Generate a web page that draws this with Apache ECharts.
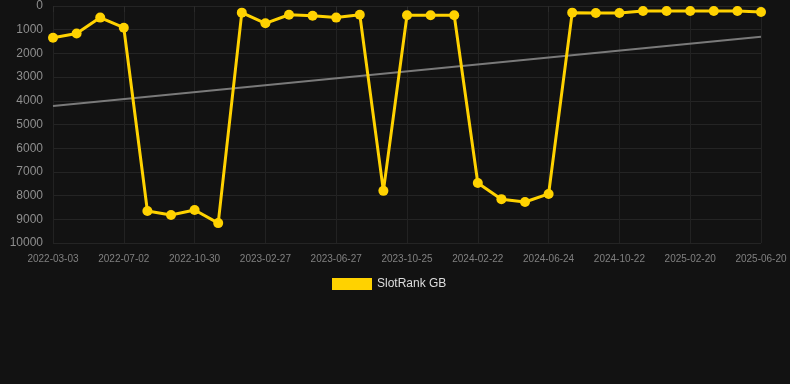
<!DOCTYPE html>
<html>
<head>
<meta charset="utf-8">
<script src="https://cdn.jsdelivr.net/npm/echarts@6/dist/echarts.min.js"></script>
<style>
  html, body { margin: 0; padding: 0; background: #121212; }
  #chart { width: 790px; height: 384px; }
</style>
</head>
<body>
<div id="chart"></div>
<script>
// dates of each rank sample (~40 days apart)
var dates = [
  '2022-03-03', '2022-04-12', '2022-05-22', '2022-07-02', '2022-08-11', '2022-09-20',
  '2022-10-30', '2022-12-09', '2023-01-18', '2023-02-27', '2023-04-08', '2023-05-18',
  '2023-06-27', '2023-08-06', '2023-09-15', '2023-10-25', '2023-12-04', '2024-01-13',
  '2024-02-22', '2024-04-02', '2024-05-13', '2024-06-24', '2024-08-03', '2024-09-12',
  '2024-10-22', '2024-12-01', '2025-01-10', '2025-02-20', '2025-04-01', '2025-05-11',
  '2025-06-20'
];
// SlotRank GB position
var rankGB = [
  1340, 1160, 490, 915, 8650, 8820, 8610, 9160, 280, 730, 370, 410,
  490, 370, 7800, 390, 390, 390, 7470, 8150, 8270, 7930, 280, 295,
  295, 210, 210, 210, 210, 210, 250
];
// trend line end points
var trendStart = 4220;
var trendEnd = 1300;

var trendData = dates.map(function (d, i) {
  if (i === 0) return trendStart;
  if (i === dates.length - 1) return trendEnd;
  return null;
});

var myChart = echarts.init(document.getElementById('chart'));

var option = {
  backgroundColor: '#121212',
  animation: false,
  grid: { left: 53, right: 29, top: 6, bottom: 141 },
  legend: {
    data: ['SlotRank GB'],
    left: 327,
    top: 273,
    icon: 'rect',
    itemWidth: 40,
    itemHeight: 12,
    itemGap: 10,
    textStyle: { color: '#dddddd', fontSize: 12, fontFamily: 'Liberation Sans, Arial, sans-serif' }
  },
  xAxis: {
    type: 'category',
    boundaryGap: false,
    data: dates,
    axisLine: { show: false },
    axisTick: { show: true, interval: 2, length: 6, lineStyle: { color: '#2a2a2a' } },
    axisLabel: {
      interval: 2,
      color: '#808080',
      fontSize: 10,
      margin: 11,
      fontFamily: 'Liberation Sans, Arial, sans-serif'
    },
    splitLine: { show: true, interval: 2, lineStyle: { color: '#222222', width: 1 } }
  },
  yAxis: {
    type: 'value',
    inverse: true,
    min: 0,
    max: 10000,
    interval: 1000,
    axisLine: { show: false },
    axisTick: { show: false },
    axisLabel: {
      color: '#8e8e8e',
      fontSize: 12,
      margin: 10,
      fontFamily: 'Liberation Sans, Arial, sans-serif',
      formatter: function (v) { return String(v); }
    },
    splitLine: { lineStyle: { color: '#242424', width: 1 } }
  },
  series: [
    {
      name: 'trend',
      type: 'line',
      data: trendData,
      connectNulls: true,
      symbol: 'none',
      silent: true,
      z: 1,
      lineStyle: { color: '#7a7a7a', width: 2 }
    },
    {
      name: 'SlotRank GB',
      type: 'line',
      data: rankGB,
      symbol: 'circle',
      symbolSize: 10,
      z: 3,
      itemStyle: { color: '#ffd200' },
      lineStyle: { color: '#ffd200', width: 3 }
    }
  ]
};

myChart.setOption(option);
</script>
</body>
</html>
